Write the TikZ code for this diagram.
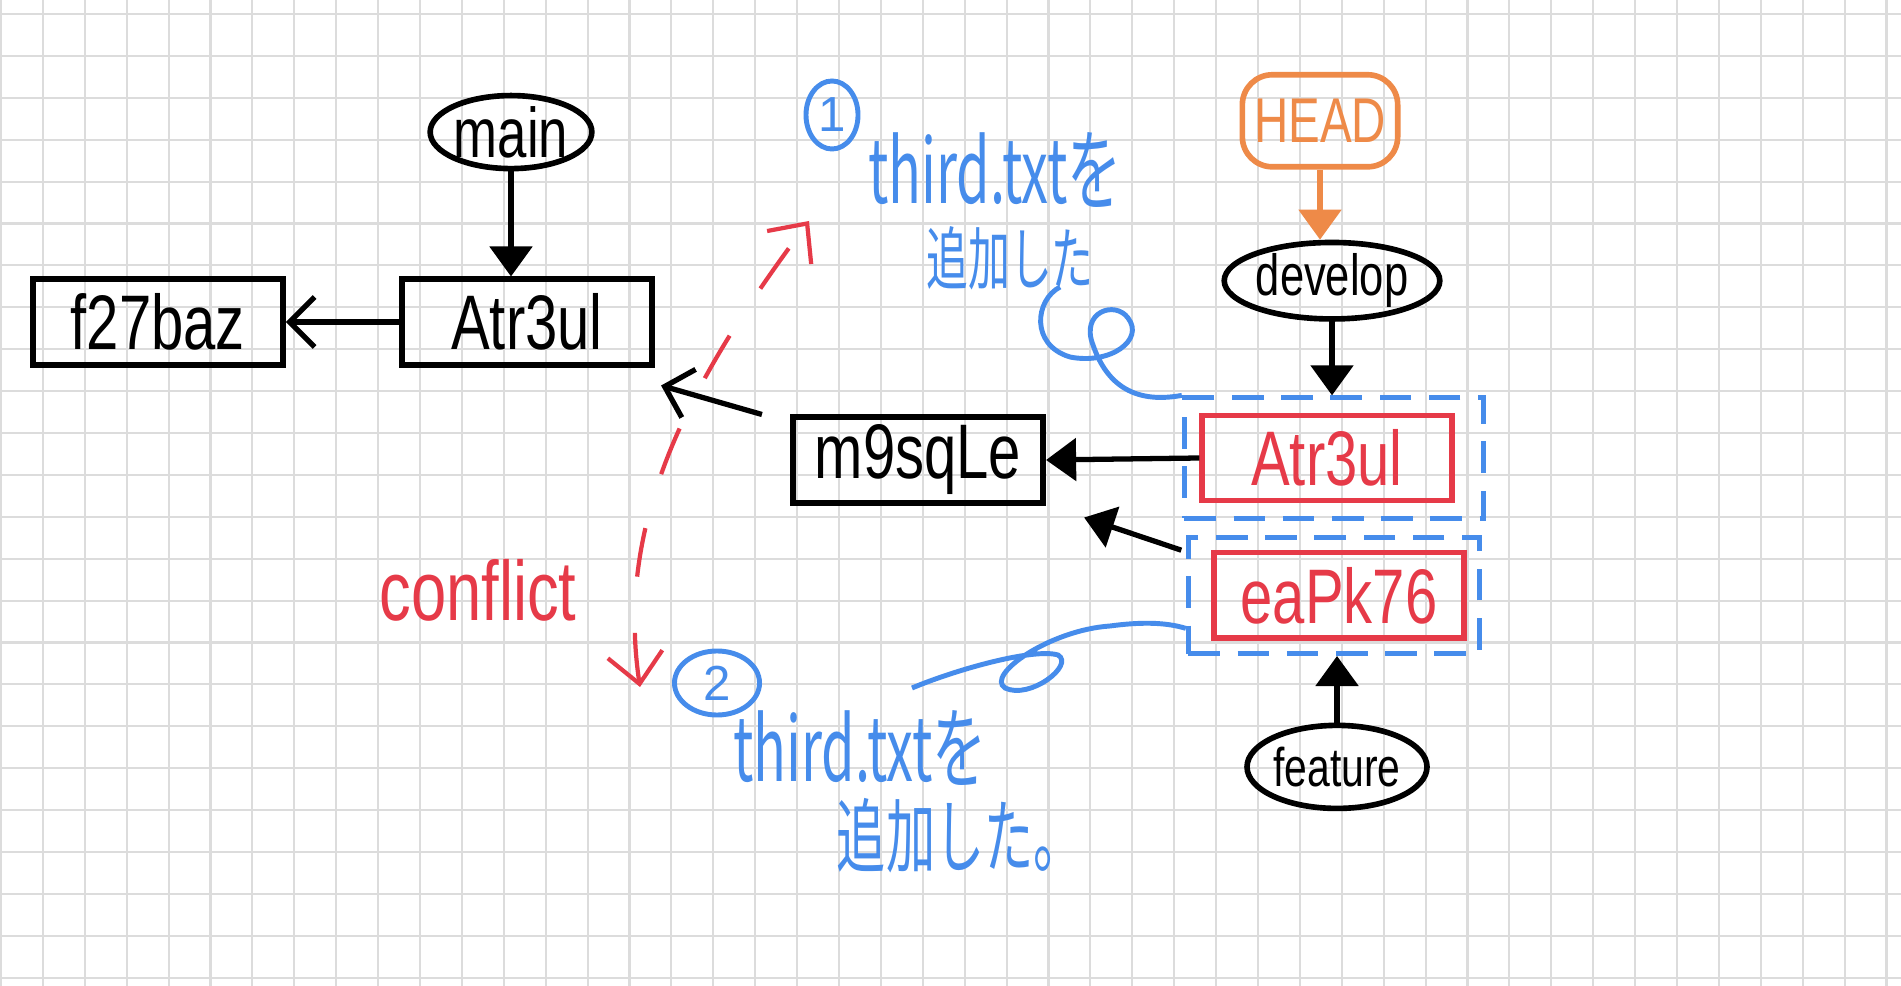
\documentclass[tikz,border=0pt]{standalone}
\usepackage{graphicx,xcolor}
\usepackage{fontspec}
\setmainfont{Liberation Sans}
\newfontfamily\jpfont{Noto Sans CJK JP}
\usetikzlibrary{arrows.meta,positioning,fit,shapes.geometric}
\definecolor{inkred}{HTML}{E63A48}
\definecolor{inkblue}{HTML}{468CEB}
\definecolor{inkorange}{HTML}{EE8A48}
\definecolor{gridgray}{HTML}{DCDCDC}
\newcommand{\slim}[1]{\scalebox{0.75}[1]{#1}}
\newcommand{\hand}[1]{\scalebox{0.7}[1.15]{#1}}
\tikzset{commit/.style={draw,line width=1.7pt,minimum width=2.5cm,minimum height=0.85cm,inner sep=0pt,font=\fontsize{22}{24}\selectfont},redcommit/.style={commit,draw=inkred,text=inkred,line width=1.5pt},branch/.style={ellipse,draw,line width=1.6pt,inner sep=0pt},sel/.style={draw=inkblue,line width=1.4pt,dash pattern=on 9pt off 5pt,inner sep=0.15cm},tri/.style={-{Triangle[length=0.3cm,width=0.42cm]},line width=1.5pt},barb/.style={-{Straight Barb[length=0.25cm,width=0.5cm]},line width=1.5pt},note/.style={text=inkblue,inner sep=0pt,font=\jpfont\fontsize{22}{24}\selectfont},circnum/.style={ellipse,draw=inkblue,text=inkblue,line width=1.4pt,inner sep=0pt,font=\fontsize{14}{16}\selectfont},gridline/.style={gridgray,line width=0.6pt}}
\begin{document}
\begin{tikzpicture}[x=0.01cm,y=-0.01cm]
\fill[white] (0,0) rectangle (1901,986);
\useasboundingbox (0,0) rectangle (1901,986);
\foreach \i in {0,...,45} \draw[gridline] ({1+41.9*\i},0) -- ({1+41.9*\i},986);
\foreach \j in {0,...,23} \draw[gridline] (0,{14+41.9*\j}) -- (1901,{14+41.9*\j});
% main side
\node[commit] (atrmain) at (527,322) {\slim{Atr3ul}};
\node[commit,left=1.13cm of atrmain] (f27baz) {\slim{f27baz}};
\node[branch,minimum width=1.24cm,minimum height=0.73cm,above=1.05cm of atrmain,xshift=-0.16cm,font=\fontsize{20}{22}\selectfont] (main) {\slim{main}};
\node[commit] (m9sqle) at (918,460) {\slim{m9sqLe}};
% develop / feature side
\node[redcommit] (atrred) at (1327,458) {\slim{Atr3ul}};
\node[redcommit,below=0.47cm of atrred,xshift=0.12cm] (eapk) {\slim{eaPk76}};
\coordinate (padA) at ([xshift=0.14cm]atrred.east);
\coordinate (padB) at ([xshift=-0.1cm]eapk.west);
\node[sel,fit=(atrred)(padA)] (selA) {};
\node[sel,fit=(eapk)(padB),inner sep=0.13cm] (selB) {};
\node[branch,minimum width=1.98cm,minimum height=0.76cm,above=0.91cm of atrred,xshift=0.05cm,font=\fontsize{16.5}{18}\selectfont] (develop) {\slim{develop}};
\node[draw=inkorange,text=inkorange,rounded corners=0.3cm,line width=1.6pt,minimum width=1.55cm,minimum height=0.92cm,above=0.7cm of develop,xshift=-0.12cm,font=\fontsize{18}{20}\selectfont] (head) {\slim{HEAD}};
\node[branch,minimum width=1.6cm,minimum height=0.83cm,below=0.82cm of eapk,xshift=-0.02cm,font=\fontsize{15.5}{17}\selectfont] (feature) {\slim{feature}};
\draw[tri] (main.south) -- (main.south |- atrmain.north);
\draw[barb] (atrmain.west) -- (f27baz.east);
\draw[barb] ([xshift=-0.28cm]m9sqle.north west) -- ([shift={(0.06cm,-0.18cm)}]atrmain.south east);
\draw[tri] (atrred.west) -- (m9sqle.east);
\draw[tri] ([xshift=-0.3cm]eapk.north west) -- ([shift={(0.38cm,-0.12cm)}]m9sqle.south east);
\draw[tri] (develop.south) -- (selA.north -| develop.south);
\draw[tri] (feature.north) -- (selB.south -| feature.north);
\draw[tri,draw=inkorange,fill=inkorange] (head.south) -- (develop.north -| head.south);
% notes
\node[circnum,minimum width=0.52cm,minimum height=0.68cm] (numA) at (832,115) {1};
\node[note] (noteA1) at (995,170) {\hand{third.txtを}};
\node[note,font=\jpfont\fontsize{17}{19}\selectfont] (noteA2) at (1010,258) {\hand{追加した}};
\node[circnum,minimum width=0.85cm,minimum height=0.64cm] (numB) at (717,683) {2};
\node[note] (noteB1) at (860,748) {\hand{third.txtを}};
\node[note,font=\jpfont\fontsize{20}{22}\selectfont] (noteB2) at (960,836) {\hand{追加した。}};
\node[text=inkred,font=\fontsize{24}{26}\selectfont] (conflict) at (478,590) {\slim{conflict}};
\coordinate (clashlo) at (640,687);
\coordinate (clashhi) at (809,221);
\draw[inkred,line width=1.2pt,dash pattern=on 14pt off 16pt,{Straight Barb[length=0.3cm,width=0.55cm]}-{Straight Barb[length=0.3cm,width=0.55cm]}] (clashlo) .. controls (615,520) and (690,380) .. (clashhi);
\coordinate (tailA) at (1060,287);
\draw[inkblue,line width=1.4pt] (tailA) .. controls (1035,300) and (1030,345) .. (1070,357) .. controls (1110,365) and (1145,340) .. (1128,318) .. controls (1115,300) and (1080,312) .. (1093,345) .. controls (1105,380) and (1130,405) .. (selA.north west);
\coordinate (tailB) at (912,688);
\draw[inkblue,line width=1.4pt] (tailB) .. controls (960,668) and (1035,648) .. (1058,655) .. controls (1075,665) and (1030,700) .. (1005,688) .. controls (985,675) and (1050,630) .. (1110,626) .. controls (1140,622) and (1165,622) .. ([yshift=-0.33cm]selB.west);
\end{tikzpicture}
\end{document}
